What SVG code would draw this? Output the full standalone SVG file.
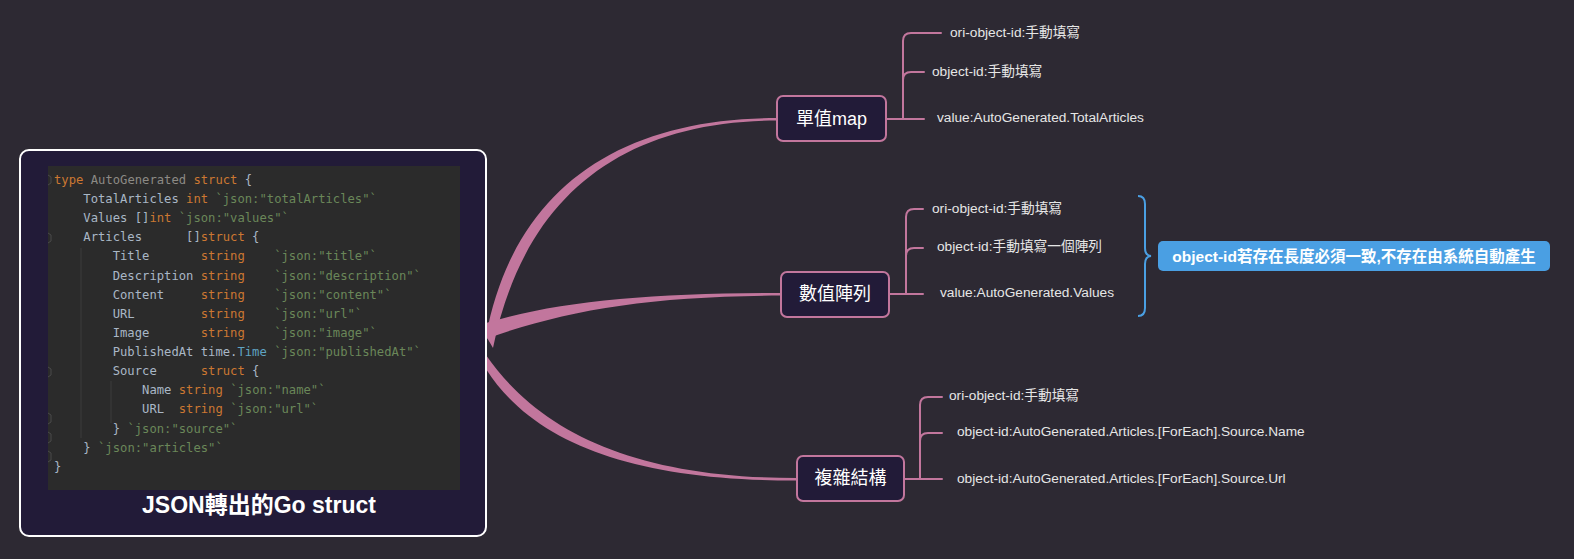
<svg xmlns="http://www.w3.org/2000/svg" width="1574" height="559" viewBox="0 0 1574 559">
<style>
.bg{fill:#2d2933}
.conn{fill:#c2769d}
.br{fill:none;stroke:#c2769d;stroke-width:2;stroke-linecap:round;stroke-linejoin:round}
.node rect{fill:#221b38;stroke:#c2769d;stroke-width:2}
.ntext{font-family:"Liberation Sans","Noto Sans CJK TC",sans-serif;font-size:18px;fill:#ffffff;text-anchor:middle;dominant-baseline:central}
.leaf{font-family:"Liberation Sans","Noto Sans CJK TC",sans-serif;font-size:13.7px;fill:#e6e6e6;dominant-baseline:central}
.code text{font-family:"DejaVu Sans Mono","Liberation Mono",monospace;font-size:12.2px;fill:#a9b7c6;white-space:pre}
.kw{fill:#cc7832}
.st{fill:#6a8759}
.gr{fill:#8c8a85}
.tm{fill:#5fa3c2}
.guide{stroke:#3c3c3c;stroke-width:1}
.fold{fill:none;stroke:#4a4a4a;stroke-width:1}
</style>
<rect class="bg" x="0" y="0" width="1574" height="559"/>

<g id="connectors">
  <path class="conn" d="M486,336 C514,188 620,118 777,118 L777,120.5 C622,121 524,196 493,348 Z"/>
  <path class="conn" d="M486,323 C560,301 650,293 781,293 L781,295.5 C650,296 565,310 486,339 Z"/>
  <path class="conn" d="M486,355 C542,436 642,478 797,478 L797,480.5 C640,481 535,446 486,369 Z"/>
  <path class="br" d="M886,119 L903,119 M903,119 L924,119 M924,72 L911,72 Q903,72 903,80 M941,33 L911,33 Q903,33 903,41 L903,119"/>
  <path class="br" d="M889,294 L906,294 M906,294 L923,294 M923,248 L914,248 Q906,248 906,256 M923,209 L914,209 Q906,209 906,217 L906,294"/>
  <path class="br" d="M904,479 L920,479 M920,479 L942,479 M942,433 L928,433 Q920,433 920,441 M942,397 L928,397 Q920,397 920,405 L920,479"/>
  <path d="M1138,196 Q1145,196 1145,204 L1145,248 Q1145,255.5 1151,256 Q1145,256.5 1145,264 L1145,308 Q1145,316 1138,316" fill="none" stroke="#4a9fe3" stroke-width="2"/>
</g>

<g id="main">
  <rect x="20" y="150" width="466" height="386" rx="9" fill="#221b38" stroke="#ffffff" stroke-width="2"/>
  <rect x="48" y="166" width="412" height="324" fill="#2b2b2b"/>
  <line class="guide" x1="81" y1="248" x2="81" y2="438"/>
  <line class="guide" x1="111" y1="381" x2="111" y2="423"/>
  <path class="fold" d="M48,175 L51,177 L51,183 L48,185 M48,233 L51,235 L51,241 L48,243 M48,367 L51,369 L51,375 L48,377 M48,424 L51,422 L51,415 L48,413 M48,443 L51,441 L51,434 L48,432 M48,462 L51,460 L51,453 L48,451"/>
  <g class="code">
    <text x="54" y="184" xml:space="preserve"><tspan class="kw">type</tspan> <tspan class="gr">AutoGenerated</tspan> <tspan class="kw">struct</tspan> {</text>
    <text x="54" y="203" xml:space="preserve">    TotalArticles <tspan class="kw">int</tspan> <tspan class="st">`json:"totalArticles"`</tspan></text>
    <text x="54" y="222" xml:space="preserve">    Values []<tspan class="kw">int</tspan> <tspan class="st">`json:"values"`</tspan></text>
    <text x="54" y="241" xml:space="preserve">    Articles      []<tspan class="kw">struct</tspan> {</text>
    <text x="54" y="260" xml:space="preserve">        Title       <tspan class="kw">string</tspan>    <tspan class="st">`json:"title"`</tspan></text>
    <text x="54" y="280" xml:space="preserve">        Description <tspan class="kw">string</tspan>    <tspan class="st">`json:"description"`</tspan></text>
    <text x="54" y="299" xml:space="preserve">        Content     <tspan class="kw">string</tspan>    <tspan class="st">`json:"content"`</tspan></text>
    <text x="54" y="318" xml:space="preserve">        URL         <tspan class="kw">string</tspan>    <tspan class="st">`json:"url"`</tspan></text>
    <text x="54" y="337" xml:space="preserve">        Image       <tspan class="kw">string</tspan>    <tspan class="st">`json:"image"`</tspan></text>
    <text x="54" y="356" xml:space="preserve">        PublishedAt time.<tspan class="tm">Time</tspan> <tspan class="st">`json:"publishedAt"`</tspan></text>
    <text x="54" y="375" xml:space="preserve">        Source      <tspan class="kw">struct</tspan> {</text>
    <text x="54" y="394" xml:space="preserve">            Name <tspan class="kw">string</tspan> <tspan class="st">`json:"name"`</tspan></text>
    <text x="54" y="413" xml:space="preserve">            URL  <tspan class="kw">string</tspan> <tspan class="st">`json:"url"`</tspan></text>
    <text x="54" y="433" xml:space="preserve">        } <tspan class="st">`json:"source"`</tspan></text>
    <text x="54" y="452" xml:space="preserve">    } <tspan class="st">`json:"articles"`</tspan></text>
    <text x="54" y="471" xml:space="preserve">}</text>
  </g>
  <text x="259" y="505" font-family="Liberation Sans,'Noto Sans CJK TC',sans-serif" font-size="23" font-weight="bold" fill="#ffffff" text-anchor="middle" dominant-baseline="central">JSON轉出的Go struct</text>
</g>

<g id="node-single" class="node">
  <rect x="777" y="96" width="109" height="45" rx="6"/>
  <text class="ntext" x="831.5" y="118.5">單值map</text>
</g>
<g id="node-array" class="node">
  <rect x="781" y="272" width="108" height="45" rx="6"/>
  <text class="ntext" x="835" y="294">數值陣列</text>
</g>
<g id="node-complex" class="node">
  <rect x="797" y="456" width="107" height="45" rx="6"/>
  <text class="ntext" x="850.5" y="478">複雜結構</text>
</g>

<g id="leaf-1a"><text class="leaf" x="950" y="32">ori-object-id:手動填寫</text></g>
<g id="leaf-1b"><text class="leaf" x="932" y="71">object-id:手動填寫</text></g>
<g id="leaf-1c"><text class="leaf" x="937" y="117">value:AutoGenerated.TotalArticles</text></g>

<g id="leaf-2a"><text class="leaf" x="932" y="208">ori-object-id:手動填寫</text></g>
<g id="leaf-2b"><text class="leaf" x="937" y="246">object-id:手動填寫一個陣列</text></g>
<g id="leaf-2c"><text class="leaf" x="940" y="292">value:AutoGenerated.Values</text></g>

<g id="leaf-3a"><text class="leaf" x="949" y="395">ori-object-id:手動填寫</text></g>
<g id="leaf-3b"><text class="leaf" x="957" y="431">object-id:AutoGenerated.Articles.[ForEach].Source.Name</text></g>
<g id="leaf-3c"><text class="leaf" x="957" y="478">object-id:AutoGenerated.Articles.[ForEach].Source.Url</text></g>

<g id="note">
  <rect x="1158" y="241" width="392" height="30" rx="5" fill="#4a9fe3"/>
  <text x="1354" y="256" font-family="Liberation Sans,'Noto Sans CJK TC',sans-serif" font-size="15.5" font-weight="bold" fill="#ffffff" text-anchor="middle" dominant-baseline="central">object-id若存在長度必須一致,不存在由系統自動產生</text>
</g>
</svg>
